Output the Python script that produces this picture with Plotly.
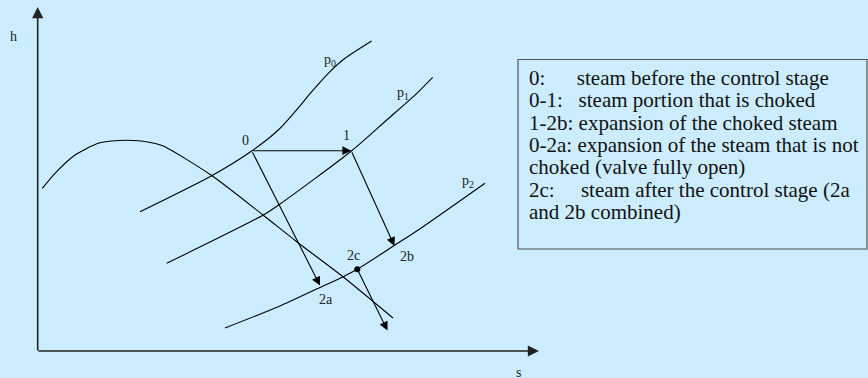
import plotly.graph_objects as go

W, H = 868, 378
BG = "#CCECFF"
INK = "#000000"
FONT = "Liberation Serif, Times New Roman, DejaVu Serif, serif"

def hv(ys):
    return [H - y for y in ys]

# saturation line (s, h)
dome_s = [42.3, 55, 75, 98.3, 111.7, 138.3, 151.7, 163.3, 211.7, 263, 296.7, 343, 393]
dome_h = hv([188.3, 173.3, 155, 143.3, 141, 140.7, 142.7, 146, 175.5, 215, 241.7, 276.7, 318])

# isobars
p0_s = [140, 211.7, 251.7, 278.3, 295, 311.7, 328.3, 345, 371.7]
p0_h = hv([211.7, 175.7, 151, 130, 111.7, 91.7, 73.3, 58.3, 41])
p1_s = [166.7, 263.3, 280, 351.7, 386.7, 413.3, 432.7]
p1_h = hv([263.3, 215, 204, 150.7, 120, 96.7, 77.3])
p2_s = [225, 280, 320, 343.3, 357.3, 395, 418.3, 485]
p2_h = hv([328, 306, 287.5, 276.7, 269.3, 245, 230, 183.3])

isobar_labels = ["p<sub>0</sub>", "p<sub>1</sub>", "p<sub>2</sub>"]
isobar_label_s = [330, 403, 468]
isobar_label_h = hv([60, 93, 181])

# states
state_names = ["0", "1", "2a", "2b", "2c", "2c'"]
state_s = [251.7, 351.2, 320, 394.5, 357.3, 387.5]
state_h = hv([150.7, 150.7, 285.5, 246, 269.3, 330.5])

# processes (from state -> to state)
processes = [("0", "1"), ("1", "2b"), ("0", "2a"), ("2c", "2c'")]

# point labels
point_labels = ["0", "1", "2a", "2b", "2c"]
point_label_s = [245, 346, 326, 407, 353]
point_label_h = hv([140, 135, 299, 256, 255])

# axes
axis_origin = (37.7, H - 351)
axis_h_top = H - 7
axis_s_right = 539
axis_labels = ["h", "s"]
axis_label_s = [13.5, 518.5]
axis_label_h = hv([36, 372])

legend_lines = [
    "0:\u00a0\u00a0\u00a0\u00a0\u00a0\u00a0steam before the control stage",
    "0-1:\u00a0\u00a0\u00a0steam portion that is choked",
    "1-2b: expansion of the choked steam",
    "0-2a: expansion of the steam that is not",
    "choked (valve fully open)",
    "2c:\u00a0\u00a0\u00a0\u00a0\u00a0steam after the control stage (2a",
    "and 2b combined)",
]

fig = go.Figure()
line_style = dict(color=INK, width=1.1, shape="spline", smoothing=0.7)
for xs, ys in [(dome_s, dome_h), (p0_s, p0_h), (p1_s, p1_h), (p2_s, p2_h)]:
    fig.add_trace(go.Scatter(x=xs, y=ys, mode="lines", line=line_style,
                             hoverinfo="skip", showlegend=False))

idx = {n: i for i, n in enumerate(state_names)}
annotations = []
for a, b in processes:
    ia, ib = idx[a], idx[b]
    annotations.append(dict(x=state_s[ib], y=state_h[ib], ax=state_s[ia], ay=state_h[ia],
                            xref="x", yref="y", axref="x", ayref="y", text="",
                            showarrow=True, arrowhead=2, arrowsize=1.6, arrowwidth=1.1,
                            arrowcolor=INK))

# 2c dot
fig.add_trace(go.Scatter(x=[state_s[idx["2c"]]], y=[state_h[idx["2c"]]], mode="markers",
                         marker=dict(color=INK, size=6), hoverinfo="skip", showlegend=False))

# axes with arrows
annotations.append(dict(x=axis_origin[0], y=axis_h_top, ax=axis_origin[0], ay=H - 352,
                        xref="x", yref="y", axref="x", ayref="y", text="", showarrow=True,
                        arrowhead=2, arrowsize=1.4, arrowwidth=1.6, arrowcolor="#222"))
annotations.append(dict(x=axis_s_right, y=axis_origin[1], ax=axis_origin[0] - 0.8, ay=axis_origin[1],
                        xref="x", yref="y", axref="x", ayref="y", text="", showarrow=True,
                        arrowhead=2, arrowsize=1.4, arrowwidth=1.6, arrowcolor="#222"))

lab_font = dict(family=FONT, size=14, color="#222")
for t, x, y in zip(point_labels, point_label_s, point_label_h):
    annotations.append(dict(x=x, y=y, text=t, showarrow=False, xref="x", yref="y", font=lab_font))
for t, x, y in zip(isobar_labels, isobar_label_s, isobar_label_h):
    annotations.append(dict(x=x, y=y, text=t, showarrow=False, xref="x", yref="y", font=lab_font))
for t, x, y in zip(axis_labels, axis_label_s, axis_label_h):
    annotations.append(dict(x=x, y=y, text=t, showarrow=False, xref="x", yref="y", font=lab_font))

# legend box
box_x0, box_x1, box_y0, box_y1 = 518, 867, H - 249, H - 59.5
fig.add_shape(type="rect", x0=box_x0, x1=box_x1, y0=box_y0, y1=box_y1, xref="x", yref="y",
              line=dict(color="#555", width=1.2), fillcolor="rgba(0,0,0,0)")
line_y0 = 78
line_dy = 22.35
for i, t in enumerate(legend_lines):
    annotations.append(dict(x=526.5, y=H - (line_y0 + i * line_dy), text=t, showarrow=False,
                            xref="x", yref="y", xanchor="left", yanchor="middle",
                            font=dict(family=FONT, size=21, color="#111")))

fig.update_layout(
    width=W, height=H, margin=dict(l=0, r=0, t=0, b=0),
    paper_bgcolor=BG, plot_bgcolor=BG,
    font=dict(family=FONT),
    xaxis=dict(range=[0, W], visible=False, fixedrange=True),
    yaxis=dict(range=[0, H], visible=False, fixedrange=True),
    annotations=annotations, showlegend=False,
)
fig.write_html("out.html", config={"displayModeBar": False},
               post_script="document.body.style.margin='0';document.body.style.background='#CCECFF';")
